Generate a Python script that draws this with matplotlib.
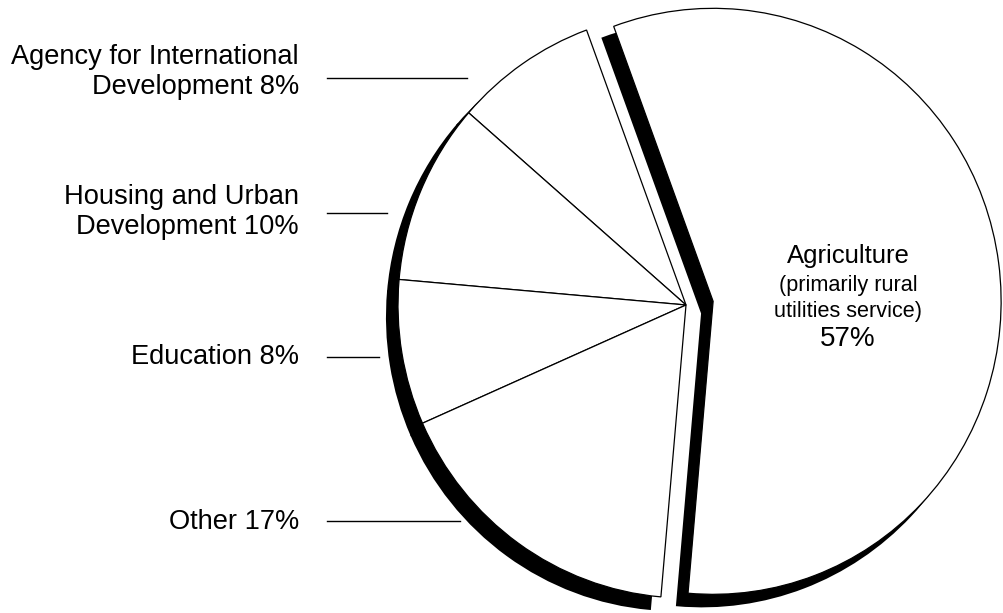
import matplotlib
matplotlib.use("Agg")
import matplotlib.pyplot as plt
from matplotlib.lines import Line2D

# slice order: counterclockwise starting at the bottom
labels = ["Agriculture", "Agency for International\nDevelopment 8%",
          "Housing and Urban\nDevelopment 10%", "Education 8%", "Other 17%"]
shares = [57, 8, 10, 8, 17]
explode = [0.095, 0, 0, 0, 0]

W, H = 1004, 613
fig = plt.figure(figsize=(W / 100, H / 100), dpi=100)
ax = fig.add_axes([0, 0, 1, 1])

plt.rcParams['font.family'] = ['Liberation Sans', 'DejaVu Sans']

# pixel geometry of the pie (rest of pie center / radius)
cx_px, cy_px = 686, 305
rx_px, ry_px = 288, 293

start = -95
wp = dict(edgecolor='black', linewidth=0.9)

# shadow: same pie in black, shifted down-left
ax.pie(shares, explode=explode, startangle=start, counterclock=True,
       colors=['black'] * len(shares), center=(-11 / rx_px, -12 / ry_px),
       wedgeprops=dict(edgecolor='black', linewidth=1.5), normalize=True)
wedges, _ = ax.pie(shares, explode=explode, startangle=start, counterclock=True,
                   colors=['white'] * len(shares), wedgeprops=wp, normalize=True)

ax.set_aspect('auto')
ax.set_xlim(-cx_px / rx_px, (W - cx_px) / rx_px)
ax.set_ylim(-(H - cy_px) / ry_px, cy_px / ry_px)
ax.axis('off')


def fx(x):
    return x / W


def fy(y):
    return 1 - y / H


# left-side labels with leader lines: (text y center, line y, line end x)
label_pos = [(72, 78, 467), (212, 213, 387), (357, 357, 379), (522, 521, 460)]
for lab, (ty, ly, lx) in zip(labels[1:], label_pos):
    fig.text(fx(299), fy(ty), lab, ha='right', va='center', fontsize=19.6,
             linespacing=1.15)
    fig.add_artist(Line2D([fx(327), fx(lx)], [fy(ly), fy(ly)],
                          transform=fig.transFigure, color='black', lw=1))

# agriculture label inside the exploded slice
fig.text(fx(848), fy(256), labels[0], ha='center', va='center', fontsize=18.5)
fig.text(fx(848), fy(285), "(primarily rural", ha='center', va='center', fontsize=15.6)
fig.text(fx(848), fy(312), "utilities service)", ha='center', va='center', fontsize=15.6)
fig.text(fx(848), fy(339), f"{shares[0]}%", ha='center', va='center', fontsize=20)

fig.savefig("out.png", dpi=100)
